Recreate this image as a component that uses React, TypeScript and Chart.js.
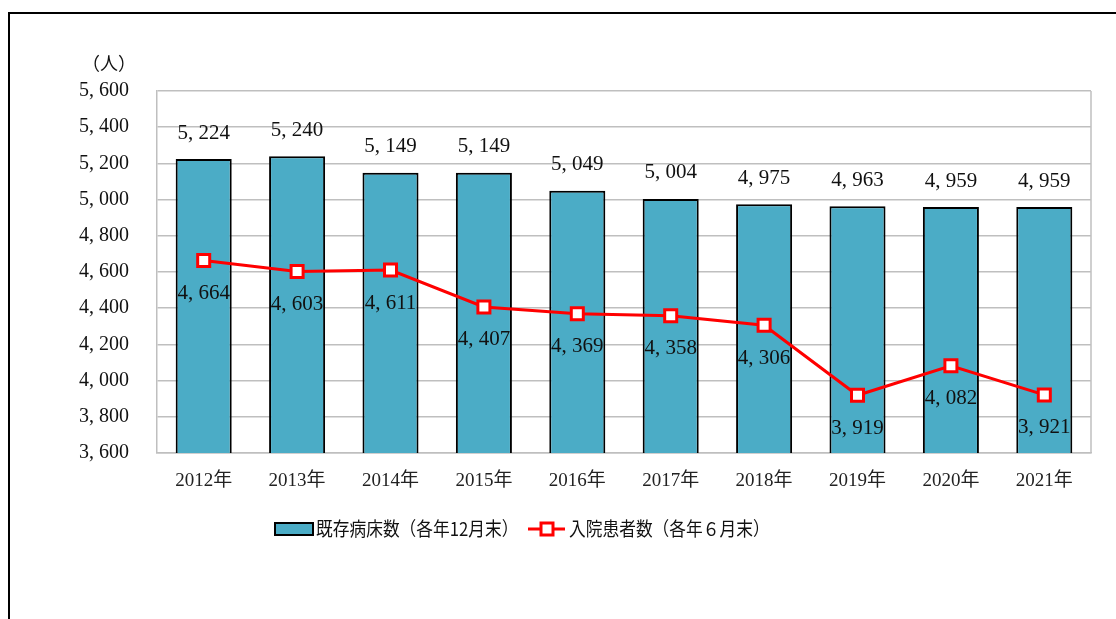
import React, { useEffect, useRef } from "react";
import { Chart, registerables } from "chart.js";

Chart.register(...registerables);

const categories = ["2012年", "2013年", "2014年", "2015年", "2016年", "2017年", "2018年", "2019年", "2020年", "2021年"];
const bedCounts = [5224, 5240, 5149, 5149, 5049, 5004, 4975, 4963, 4959, 4959];
const inpatients = [4664, 4603, 4611, 4407, 4369, 4358, 4306, 3919, 4082, 3921];
const barLegend = "既存病床数（各年12月末）";
const lineLegend = "入院患者数（各年６月末）";
const unitLabel = "（人）";

const SERIF = "'Liberation Serif', 'Noto Sans CJK JP', serif";
const CJK = "'Noto Sans CJK JP', 'Liberation Serif', sans-serif";
const TEAL = "#4BACC6";
const RED = "#FF0000";

const fmt = (n: number) => {
  const s = String(Math.round(n));
  return s.length > 3 ? s.slice(0, -3) + ", " + s.slice(-3) : s;
};

const drawCondensed = (ctx: CanvasRenderingContext2D, text: string, x: number, y: number, sx: number) => {
  ctx.save();
  ctx.translate(x, y);
  ctx.scale(sx, 1);
  ctx.fillText(text, 0, 0);
  ctx.restore();
};

const decorPlugin = {
  id: "decor",
  afterDatasetsDraw(chart: any) {
    const ctx = chart.ctx;
    const { right, top, bottom } = chart.chartArea;
    ctx.save();
    ctx.strokeStyle = "#BFBFBF";
    ctx.lineWidth = 1.5;
    ctx.beginPath();
    ctx.moveTo(right, top);
    ctx.lineTo(right, bottom);
    ctx.stroke();

    ctx.fillStyle = "#111";
    ctx.textAlign = "center";
    ctx.textBaseline = "middle";
    ctx.font = `21px ${SERIF}`;
    const barMeta = chart.getDatasetMeta(0);
    barMeta.data.forEach((el: any, i: number) => {
      ctx.fillText(fmt(bedCounts[i]), el.x, el.y - 26);
    });
    const lineMeta = chart.getDatasetMeta(1);
    lineMeta.data.forEach((el: any, i: number) => {
      ctx.fillText(fmt(inpatients[i]), el.x, el.y + 33);
    });
    ctx.restore();
  },
  afterDraw(chart: any) {
    const ctx = chart.ctx;
    ctx.save();
    ctx.fillStyle = "#111";
    ctx.font = `18px ${CJK}`;
    ctx.textAlign = "center";
    ctx.textBaseline = "middle";
    ctx.fillText(unitLabel, 109, 63);

    const ly = 529;
    ctx.fillStyle = TEAL;
    ctx.fillRect(275, ly - 6, 38, 12);
    ctx.strokeStyle = "#000";
    ctx.lineWidth = 2;
    ctx.strokeRect(275, ly - 6, 38, 12);
    ctx.fillStyle = "#111";
    ctx.textAlign = "left";
    ctx.font = `19px ${CJK}`;
    drawCondensed(ctx, barLegend, 316, ly, 0.88);

    ctx.strokeStyle = RED;
    ctx.lineWidth = 3;
    ctx.beginPath();
    ctx.moveTo(528, ly);
    ctx.lineTo(565, ly);
    ctx.stroke();
    ctx.fillStyle = "#fff";
    ctx.fillRect(541, ly - 6, 12, 12);
    ctx.strokeRect(541, ly - 6, 12, 12);
    ctx.fillStyle = "#111";
    drawCondensed(ctx, lineLegend, 569, ly, 0.88);
    ctx.restore();
  },
};

export default function App() {
  const ref = useRef<HTMLCanvasElement | null>(null);

  useEffect(() => {
    if (!ref.current) return;
    const chart = new Chart(ref.current, {
      type: "bar",
      data: {
        labels: categories,
        datasets: [
          {
            type: "bar",
            label: barLegend,
            data: bedCounts,
            backgroundColor: TEAL,
            borderColor: "#000",
            borderWidth: 2,
            barPercentage: 0.6,
            categoryPercentage: 1.0,
            order: 2,
          } as any,
          {
            type: "line",
            label: lineLegend,
            data: inpatients,
            borderColor: RED,
            borderWidth: 3,
            pointStyle: "rect",
            pointRadius: 8.5,
            pointBorderWidth: 3,
            pointBackgroundColor: "#fff",
            pointBorderColor: RED,
            tension: 0,
            order: 1,
          } as any,
        ],
      },
      options: {
        responsive: false,
        animation: false,
        layout: { padding: { top: 91, right: 25, left: 0, bottom: 0 } },
        plugins: {
          legend: { display: false },
          tooltip: { enabled: false },
        },
        scales: {
          x: {
            grid: { display: false, drawTicks: false },
            border: { display: true, color: "#BFBFBF", width: 1.5 },
            ticks: {
              padding: 17,
              color: "#222",
              font: { family: SERIF, size: 19 },
              maxRotation: 0,
            },
            afterFit: (s: any) => {
              s.height = 619 - 453;
            },
          },
          y: {
            min: 3600,
            max: 5600,
            grid: { color: "#BFBFBF", lineWidth: 1.5, drawTicks: false },
            border: { display: true, color: "#BFBFBF", width: 1.5 },
            ticks: {
              stepSize: 200,
              padding: 28,
              color: "#111",
              font: { family: SERIF, size: 20 },
              callback: (v: any) => fmt(Number(v)),
            },
            afterFit: (s: any) => {
              s.width = 157;
            },
          },
        },
      },
      plugins: [decorPlugin],
    });
    return () => chart.destroy();
  }, []);

  return (
    <div style={{ position: "fixed", left: 0, top: 0, width: 1116, height: 619, overflow: "hidden", background: "#fff" }}>
      <div
        style={{
          position: "absolute",
          left: 8,
          top: 12,
          width: 1300,
          height: 800,
          border: "2px solid #000",
          boxSizing: "border-box",
        }}
      />
      <canvas ref={ref} width={1116} height={619} style={{ position: "absolute", left: 0, top: 0 }} />
    </div>
  );
}
